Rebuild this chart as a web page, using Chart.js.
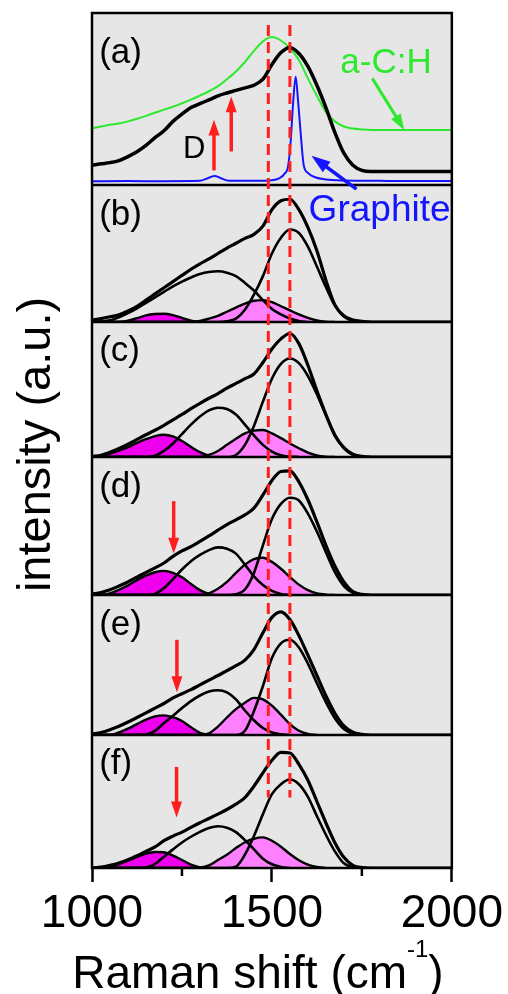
<!DOCTYPE html>
<html>
<head>
<meta charset="utf-8">
<script src="https://cdn.jsdelivr.net/npm/chart.js@4.4.1/dist/chart.umd.min.js"></script>
<style>
html, body { margin: 0; padding: 0; background: #fff; }
</style>
</head>
<body>
<canvas id="raman" width="508" height="994"></canvas>
<script>
// Raman shift grid (cm-1) shared by all fitted spectra
const shift = [1000,1025,1050,1075,1100,1125,1150,1175,1200,1225,
  1250,1275,1300,1325,1350,1375,1400,1425,1450,1475,
  1500,1525,1550,1575,1600,1625,1650,1675,1700,1725,
  1750,1775,1800,1825,1850,1875,1900,1925,1950,1975,2000];

// (a) raw spectra
const aSample = [11.5,12.3,13,14.2,16.5,19.3,23,27.5,31.5,37,
  41.2,45,47.3,49.5,51.8,53.5,55,56.5,58,61.5,
  70,77,80,76.5,69,58,45,30.5,18.5,11.5,
  8.5,7.8,7.8,7.8,7.8,7.8,7.8,7.8,7.8,7.8,7.8];
const aCH = [33,34,35,35.8,37,38.5,40.2,42,43.8,45.5,
  47.5,49.6,52,54.5,57.5,61.5,66,71.5,78,83.5,
  86,84,79.5,72.7,62,51.8,42.5,37,34,32.8,
  32.3,32,32,32,32,32,32,32,32,32,32];
const graphiteShift = [1000,1100,1200,1300,1320,1340,1360,1380,1450,1500,1520,1535,1545,
  1552,1559,1566,1573,1580,1588,1600,1620,1650,1700,1800,1900,2000];
const graphiteInt = [2.2,2.3,2.2,2.4,3.8,5.2,3.8,2.5,2.4,2.8,3.9,6.5,11,
  25,48,63,48,30,12,7,4.5,3.2,2.6,2.4,2.3,2.3];

// (b)
const bTotal = [1.5,2.5,3.8,5.3,8,11.5,16,20.5,25,29.5,
  34,38.5,42.5,46,50,54,57.5,61,64,70,
  82,88.5,89.6,82,69,52,30.5,12.5,4.5,1.5,
  0.5,0,0,0,0,0,0,0,0,0,0];
const bG = [0,0,0,0,0,0,0,0,0,0, 0,0,0,0,0,0.5,2.5,9,20,33.5,
  50,61.5,67.5,65,55,40.5,25.5,12,4,0.8, 0,0];
const bD = [0,0.3,1.2,3.5,6.5,10,14,18,22,26, 29.5,32.5,35,36.5,37,36,33.5,28.5,23,16,
  9.5,5.5,2.5,0.8,0];
const bPink = [0,0,0,0,0,0,0,0,0,0, 0,0,0.8,2.5,4.5,7.5,10.5,13.5,15.5,16,
  14.5,11.5,8.5,5.5,3,1.2,0.3,0];
const bMag = [0,0,0,0,1,2.8,4.8,5.8,6,5, 3,1,0];

// (c)
const cTotal = [0.3,1.3,3.5,6.3,9.5,13,16.5,19.8,23.5,27.5,
  31.5,35.8,39.8,43.5,47,51,54.5,58,61.5,70,
  80,87.5,91.5,84,68,49,31.5,16,7,2,
  0.5,0,0,0,0,0,0,0,0,0,0];
const cG = [0,0,0,0,0,0,0,0,0,0, 0,0,0,0,0,0,1.5,9,23,41,
  58,69,73,69.5,60,46.5,31,16.5,6.5,1.5, 0,0];
const cD = [0,0,0,0,0,0,0,1,4.5,10, 17,24,30,34.5,36.5,35.5,31.5,24,16,9,
  4,1.3,0.3,0];
const cPink = [0,0,0,0,0,0,0,0,0,0, 0,0,0,1.5,4.5,9,13.5,17.5,19.5,20,
  17.5,14,10,6.5,3.3,1.2,0.3,0];
const cMag = [0,0.6,2.5,4.8,7.3,10.5,13.2,15.5,16.5,15.2, 11.8,7.5,3.6,1,0];

// (d)
const dTotal = [0.6,1.8,3.8,6.5,9.5,13,16.3,19.6,23.2,28,
  32,35,38.8,42.8,47,51,54.5,58,63,72.5,
  83,89.5,90,82,69,53,36,21,9.5,2.5,
  0.5,0,0,0,0,0,0,0,0,0,0];
const dG = [0,0,0,0,0,0,0,0,0,0, 0,0,0,0,0,0,0.5,4,16,36,
  55,66,70.5,68.5,59,46,31,16.5,6.5,1.5, 0,0];
const dD = [0,0,0,0,0,0,0,0.8,5,11.5, 18.5,24.5,29,32.5,34.5,33.5,30,22,13.5,7.3,
  3,0.8,0];
const dPink = [0,0,0,0,0,0,0,0,0,0, 0,0,0,1.2,4.5,9.5,16,22,26,27,
  24,19,13,7.5,3.5,1.2,0.3,0];
const dMag = [0,0,1.2,3.8,7,10.8,14,16.5,17.5,16, 12.8,8,3.5,0.8,0];

// (e)
const eTotal = [0.6,1.8,3.8,6.3,9.3,12.5,15.8,19.2,22.5,26.5,
  29.5,32.4,35.8,39.2,42.5,46,49.5,53.5,61,73,
  84,88,82.5,71,57,42.5,28,15.5,6.5,2,
  0.5,0,0,0,0,0,0,0,0,0,0];
const eG = [0,0,0,0,0,0,0,0,0,0, 0,0,0,0,0,0,0,3,17,35,
  55,65.5,68,62.5,51,37,23.5,12,4.3,1, 0];
const eD = [0,0,0,0,0,0,0.3,3,8.5,13.8, 19.2,24.2,28.2,31,32,30.5,25.5,17.5,10.5,5,
  1.8,0.5,0];
const ePink = [0,0,0,0,0,0,0,0,0,0, 0,0,0,1.2,6,12.5,18.5,23,26.5,25.5,
  21,14.5,7.8,3,0.8,0];
const eMag = [0,0,0,1.8,4.5,7.8,11,13.3,14,12.7, 10,5.5,1.5,0];

// (f)
const fTotal = [0,0.6,2,3.8,6.2,9.2,12.5,15.8,20.5,24,
  27,30.6,34,37.2,40.5,44,48,53,61.5,71.5,
  81,87,86.5,78,66,50,34,19,8,2,
  0.3,0,0,0,0,0,0,0,0,0,0];
const fG = [0,0,0,0,0,0,0,0,0,0, 0,0,0,0,0,0,1,10,24,40.5,
  55.5,63,66.5,63,53.5,39,25,12.5,3.5,0.5, 0];
const fD = [0,0,0,0,0,0,0.3,3,8.5,14, 19.2,23.5,27.2,30,31.4,30.3,27,21,14,7,
  2.8,0.8,0];
const fPink = [0,0,0,0,0,0,0,0,0,0, 0,0,0.3,2,6,10,15,19.4,22,23,
  20.5,16,10.5,5.8,2.5,0.8,0];
const fMag = [0,0,1,3,5.5,8.3,10.8,12,11.8,9.3, 6,2.5,0.5,0];

const panels = ['ya', 'yb', 'yc', 'yd', 'ye', 'yf'];
const panelLabels = ['(a)', '(b)', '(c)', '(d)', '(e)', '(f)'];
const panelWeights = [172, 137, 135, 138, 140, 133];
const xTicks = [1000, 1500, 2000];
const xMinorTicks = [1250, 1750];
const dashedShifts = [1490, 1550];

const FONT = "'Liberation Sans', Arial, Helvetica, sans-serif";
const RED = '#ff1f1f';
const PINK = '#ff80ff';
const MAGENTA = '#ee00ee';

function curve(xs, ys, axis, color, width, fillColor) {
  return {
    data: ys.map((y, i) => ({ x: xs[i], y: y })),
    xAxisID: 'x',
    yAxisID: axis,
    borderColor: color,
    borderWidth: width,
    backgroundColor: fillColor || 'transparent',
    fill: fillColor ? 'origin' : false,
    pointRadius: 0,
    cubicInterpolationMode: 'monotone'
  };
}

const fitted = [
  ['yb', bTotal, bG, bD, bPink, bMag],
  ['yc', cTotal, cG, cD, cPink, cMag],
  ['yd', dTotal, dG, dD, dPink, dMag],
  ['ye', eTotal, eG, eD, ePink, eMag],
  ['yf', fTotal, fG, fD, fPink, fMag]
];

const datasets = [
  curve(shift, aSample, 'ya', '#000', 3.5),
  curve(shift, aCH, 'ya', '#2ee82e', 2),
  curve(graphiteShift, graphiteInt, 'ya', '#1414ff', 2)
];
fitted.forEach(([axis, total, g, d, pink, mag]) => {
  datasets.push(curve(shift, total, axis, '#000', 3.2));
  datasets.push(curve(shift, g, axis, '#000', 2.6));
  datasets.push(curve(shift, d, axis, '#000', 2.6));
  datasets.push(curve(shift, pink, axis, '#000', 2.4, PINK));
  datasets.push(curve(shift, mag, axis, '#000', 2.4, MAGENTA));
});

const scales = {
  x: {
    type: 'linear',
    position: 'bottom',
    min: 1000,
    max: 2000,
    afterFit(s) { s.height = 126; },
    afterBuildTicks(s) {
      s.ticks = xTicks.map(v => ({ value: v }));
    },
    ticks: {
      autoSkip: false,
      maxRotation: 0,
      padding: 5,
      color: '#000',
      font: { family: FONT, size: 46 },
      callback: v => String(v)
    },
    grid: { drawOnChartArea: false, tickLength: 14, tickColor: '#000', tickWidth: 2.5 },
    border: { display: false }
  }
};
// last one defined sits on top of the stack
panels.slice().reverse().forEach(id => {
  const k = panels.indexOf(id);
  scales[id] = {
    type: 'linear',
    position: 'left',
    stack: 'raman',
    stackWeight: panelWeights[k],
    min: 0,
    max: 100,
    afterFit(s) { s.width = 92; },
    ticks: { display: false },
    grid: { display: false },
    border: { display: false }
  };
});

function arrow(ctx, x0, y0, x1, y1, color, w, head) {
  const ang = Math.atan2(y1 - y0, x1 - x0);
  const hl = head * 1.45;
  const c = Math.cos(ang), s = Math.sin(ang);
  ctx.strokeStyle = color;
  ctx.fillStyle = color;
  ctx.lineWidth = w;
  ctx.beginPath();
  ctx.moveTo(x0, y0);
  ctx.lineTo(x1 - c * hl * 0.8, y1 - s * hl * 0.8);
  ctx.stroke();
  ctx.beginPath();
  ctx.moveTo(x1, y1);
  ctx.lineTo(x1 - hl * c + head / 2 * s, y1 - hl * s - head / 2 * c);
  ctx.lineTo(x1 - hl * c - head / 2 * s, y1 - hl * s + head / 2 * c);
  ctx.closePath();
  ctx.fill();
}

// arrows: [shift, axis, value] tail -> tip
const arrows = [
  { from: [1339, 'ya', 8.5], to: [1339, 'ya', 38], color: RED, w: 3.5, head: 11 },
  { from: [1387, 'ya', 19.5], to: [1387, 'ya', 51.5], color: RED, w: 3.5, head: 11 },
  { from: [1227, 'yd', 68], to: [1227, 'yd', 30], color: RED, w: 3.5, head: 11 },
  { from: [1236, 'ye', 68], to: [1236, 'ye', 30.5], color: RED, w: 3.5, head: 11 },
  { from: [1235, 'yf', 76], to: [1235, 'yf', 38], color: RED, w: 3.5, head: 11 },
  { from: [1779, 'ya', 62], to: [1868, 'ya', 32], color: '#2ee82e', w: 3, head: 11 },
  { from: [1735, 'yb', 97], to: [1610, 'ya', 17], color: '#1414ff', w: 3.5, head: 13 }
];

const texts = [
  { t: 'D', x: 1284, axis: 'ya', y: 20.5, color: '#000', size: 31, align: 'center' },
  { t: 'a-C:H', x: 1690, axis: 'ya', y: 71, color: '#2ee82e', size: 35, align: 'left' },
  { t: 'Graphite', x: 1602, axis: 'yb', y: 81, color: '#1414ff', size: 37, align: 'left' }
];

const decor = {
  id: 'decor',
  beforeDraw(chart) {
    const { ctx, chartArea: a } = chart;
    ctx.save();
    ctx.fillStyle = '#e6e6e6';
    ctx.fillRect(a.left, a.top, a.width, a.height);
    ctx.restore();
  },
  afterDatasetsDraw(chart) {
    const { ctx, chartArea: a, scales: sc } = chart;
    const px = v => sc.x.getPixelForValue(v);
    ctx.save();

    // panel frames
    ctx.strokeStyle = '#000';
    ctx.lineWidth = 2.5;
    ctx.strokeRect(a.left, a.top, a.width, a.height);
    panels.slice(0, -1).forEach(id => {
      const y = sc[id].bottom;
      ctx.beginPath();
      ctx.moveTo(a.left, y);
      ctx.lineTo(a.right, y);
      ctx.stroke();
    });
    // short minor ticks
    xMinorTicks.forEach(v => {
      ctx.beginPath();
      ctx.moveTo(px(v), a.bottom);
      ctx.lineTo(px(v), a.bottom + 8);
      ctx.stroke();
    });

    // dashed guides through all panels
    ctx.strokeStyle = RED;
    ctx.lineWidth = 3;
    ctx.setLineDash([11, 6]);
    dashedShifts.forEach(v => {
      ctx.beginPath();
      ctx.moveTo(px(v), sc.ya.getPixelForValue(93));
      ctx.lineTo(px(v), sc.yf.getPixelForValue(53));
      ctx.stroke();
    });
    ctx.setLineDash([]);

    arrows.forEach(r => {
      arrow(ctx,
        px(r.from[0]), sc[r.from[1]].getPixelForValue(r.from[2]),
        px(r.to[0]), sc[r.to[1]].getPixelForValue(r.to[2]),
        r.color, r.w, r.head);
    });

    ctx.textBaseline = 'middle';
    panels.forEach((id, k) => {
      ctx.fillStyle = '#000';
      ctx.font = `35px ${FONT}`;
      ctx.textAlign = 'left';
      ctx.fillText(panelLabels[k], px(1020), sc[id].getPixelForValue(k === 0 ? 76.5 : 78));
    });
    texts.forEach(t => {
      ctx.fillStyle = t.color;
      ctx.font = `${t.size}px ${FONT}`;
      ctx.textAlign = t.align;
      ctx.fillText(t.t, px(t.x), sc[t.axis].getPixelForValue(t.y));
    });

    // axis titles
    ctx.fillStyle = '#000';
    ctx.textBaseline = 'alphabetic';
    ctx.font = `47px ${FONT}`;
    ctx.save();
    ctx.translate(50, (a.top + a.bottom) / 2 + 4);
    ctx.rotate(-Math.PI / 2);
    ctx.textAlign = 'center';
    ctx.fillText('intensity (a.u.)', 0, 0);
    ctx.restore();

    const main = 'Raman shift (cm';
    ctx.font = `46px ${FONT}`;
    const w1 = ctx.measureText(main).width;
    ctx.font = `24px ${FONT}`;
    const w2 = ctx.measureText('-1').width;
    ctx.font = `46px ${FONT}`;
    const w3 = ctx.measureText(')').width;
    const x0 = (a.left + a.right) / 2 - (w1 + w2 + w3) / 2 - 14;
    const base = 988;
    ctx.textAlign = 'left';
    ctx.fillText(main, x0, base);
    ctx.font = `24px ${FONT}`;
    ctx.fillText('-1', x0 + w1, base - 31);
    ctx.font = `46px ${FONT}`;
    ctx.fillText(')', x0 + w1 + w2, base);
    ctx.restore();
  }
};

new Chart(document.getElementById('raman'), {
  type: 'line',
  data: { datasets },
  options: {
    responsive: false,
    animation: false,
    devicePixelRatio: 1,
    events: [],
    layout: { padding: { top: 13, right: 55, left: 0, bottom: 0 } },
    plugins: { legend: { display: false }, tooltip: { enabled: false } },
    scales
  },
  plugins: [decor]
});
</script>
</body>
</html>
